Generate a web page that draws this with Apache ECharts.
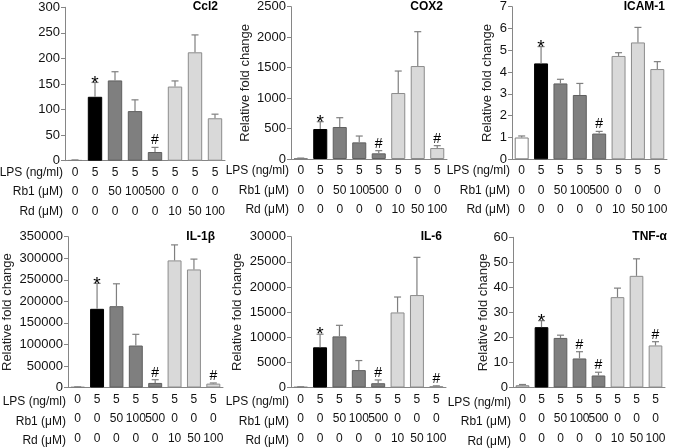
<!DOCTYPE html>
<html>
<head>
<meta charset="utf-8">
<script src="https://cdn.jsdelivr.net/npm/echarts@6/dist/echarts.min.js"></script>
<style>
html,body{margin:0;padding:0;background:#fff;}
#chart{width:675px;height:448px;}
</style>
</head>
<body>
<div id="chart"></div>
<script>
// ---- Data ----
const lps = ['0','5','5','5','5','5','5','5'];
const rb1 = ['0','0','50','100','500','0','0','0'];
const rd  = ['0','0','0','0','0','10','50','100'];
const rowLabels = ['LPS (ng/ml)','Rb1 (μM)','Rd (μM)'];

const titles = ['Ccl2','COX2','ICAM-1','IL-1β','IL-6','TNF-α'];
const yTitle = 'Relative fold change';

const ccl2Mean = [1,125,157,97,17,145,212,83];
const ccl2Err  = [0.5,28,17,22,9,11,34,8];
const ccl2Marks = ['','*','','','#','','',''];

const cox2Mean = [10,492,525,273,93,1083,1526,180];
const cox2Err  = [5,120,153,104,44,361,564,39];
const cox2Marks = ['','*','','','#','','','#'];

const icamMean = [1.0,4.40,3.48,2.95,1.18,4.74,5.36,4.14];
const icamErr  = [0.07,0.77,0.19,0.53,0.10,0.15,0.69,0.34];
const icamMarks = ['','*','','','#','','',''];

const il1bMean = [1000,182600,188700,97400,10600,295000,274000,9000];
const il1bErr  = [500,59000,52000,26000,7500,36000,24000,1500];
const il1bMarks = ['','*','','','#','','','#'];

const il6Mean = [100,8000,10170,3460,850,14930,18390,260];
const il6Err  = [50,2600,2200,1900,650,3070,7500,70];
const il6Marks = ['','*','','','#','','','#'];

const tnfMean = [0.9,24.1,19.8,11.6,4.8,36.1,44.6,16.8];
const tnfErr  = [0.3,2.6,1.1,2.7,1.3,3.6,6.8,1.5];
const tnfMarks = ['','*','','#','#','','','#'];

const yMax = [300,2500,7,350000,30000,60];
const yStep = [50,500,1,50000,5000,10];

// ---- Layout / style ----
const grids = [
  {left:65,  top:7.3,   width:160, height:153.4},
  {left:291, top:6.7,   width:156, height:152.3},
  {left:512, top:6.7,   width:155, height:152.6},
  {left:68,  top:236.7, width:155, height:153.3},
  {left:291, top:236.7, width:155, height:153.3},
  {left:513, top:237.3, width:152, height:153.4}
];
const showYTitle = [false,true,true,true,true,true];
const nameGaps = [0,39,18,54,47,19];
const titlePos = [[218,7],[443,7],[665,7],[215,237],[442,237],[667,237]];

const barFill = ['#ffffff','#000000','#7f7f7f','#7f7f7f','#7f7f7f','#d9d9d9','#d9d9d9','#d9d9d9'];
const barBorder = ['#7f7f7f','#000000','#5f5f5f','#5f5f5f','#5f5f5f','#8c8c8c','#8c8c8c','#8c8c8c'];
const axisColor = '#868686';
const errColor = '#7f7f7f';
const FONT = '"Liberation Sans", Arial, sans-serif';
const rowH = 19.5;

const means = [ccl2Mean,cox2Mean,icamMean,il1bMean,il6Mean,tnfMean];
const errs = [ccl2Err,cox2Err,icamErr,il1bErr,il6Err,tnfErr];
const marks = [ccl2Marks,cox2Marks,icamMarks,il1bMarks,il6Marks,tnfMarks];
const cats = lps.map((_,i)=>i);

function makeRender(markArr){
  return function(params, api){
    const i = api.value(0);
    const m = api.value(1), e = api.value(2);
    const base = api.coord([i, m]);
    const top = api.coord([i, m + e]);
    const cap = 3.5;
    const children = [
      {type:'line', shape:{x1:base[0],y1:base[1],x2:top[0],y2:top[1]}, style:{stroke:errColor,lineWidth:1.2}},
      {type:'line', shape:{x1:top[0]-cap,y1:top[1],x2:top[0]+cap,y2:top[1]}, style:{stroke:errColor,lineWidth:1.2}}
    ];
    const mk = markArr[i];
    if (mk === '*') {
      children.push({type:'text', style:{text:'*', x:top[0], y:top[1]+1, align:'center', verticalAlign:'middle', font:'19px '+FONT, fill:'#000'}});
    } else if (mk === '#') {
      children.push({type:'text', style:{text:'#', x:top[0], y:top[1]-7, align:'center', verticalAlign:'middle', font:'14px '+FONT, fill:'#000'}});
    }
    return {type:'group', children};
  };
}

const option = {
  animation:false,
  backgroundColor:'#fff',
  textStyle:{fontFamily:FONT},
  grid: grids.map(g=>({left:g.left, top:g.top, width:g.width, height:g.height, containLabel:false})),
  xAxis: grids.map((g,k)=>({
    type:'category', gridIndex:k, data:cats,
    axisLine:{show:true, lineStyle:{color:axisColor, width:1}},
    axisTick:{show:false},
    axisLabel:{
      interval:0, margin:2, fontSize:12, color:'#111', lineHeight:rowH, fontFamily:FONT,
      formatter:(v)=> lps[v]+'\n'+rb1[v]+'\n'+rd[v]
    }
  })),
  yAxis: grids.map((g,k)=>({
    type:'value', gridIndex:k, min:0, max:yMax[k], interval:yStep[k],
    name: showYTitle[k] ? yTitle : '',
    nameLocation:'middle', nameGap:nameGaps[k],
    nameTextStyle:{fontSize:13, color:'#222', fontFamily:FONT},
    splitLine:{show:false},
    axisLine:{show:true, lineStyle:{color:axisColor, width:1}},
    axisTick:{show:true, length:4, lineStyle:{color:axisColor}},
    axisLabel:{fontSize:13, color:'#111', margin:5, fontFamily:FONT, formatter:(v)=>String(v)}
  })),
  series: []
};

for (let k=0;k<6;k++){
  option.series.push({
    type:'bar', xAxisIndex:k, yAxisIndex:k, barWidth:'72%',
    data: means[k].map((v,i)=>({value:v, itemStyle:{color:barFill[i], borderColor:barBorder[i], borderWidth:1}})),
    z:2
  });
  option.series.push({
    type:'custom', xAxisIndex:k, yAxisIndex:k,
    renderItem: makeRender(marks[k]),
    data: means[k].map((v,i)=>[i, v, errs[k][i]]),
    z:3, silent:true, clip:false
  });
}

const graphics = [];
grids.forEach((g,k)=>{
  const y0 = g.top + g.height + 2 + rowH/2;
  rowLabels.forEach((t,r)=>{
    graphics.push({type:'text', x:g.left-2, y:y0 + r*rowH,
      style:{text:t, align:'right', verticalAlign:'middle', font:'12px '+FONT, fill:'#111'}});
  });
  graphics.push({type:'text', x:titlePos[k][0], y:titlePos[k][1],
    style:{text:titles[k], align:'right', verticalAlign:'middle', font:'bold 12px '+FONT, fill:'#000'}});
});
option.graphic = graphics;

const chart = echarts.init(document.getElementById('chart'), null, {renderer:'canvas'});
chart.setOption(option);
</script>
</body>
</html>
